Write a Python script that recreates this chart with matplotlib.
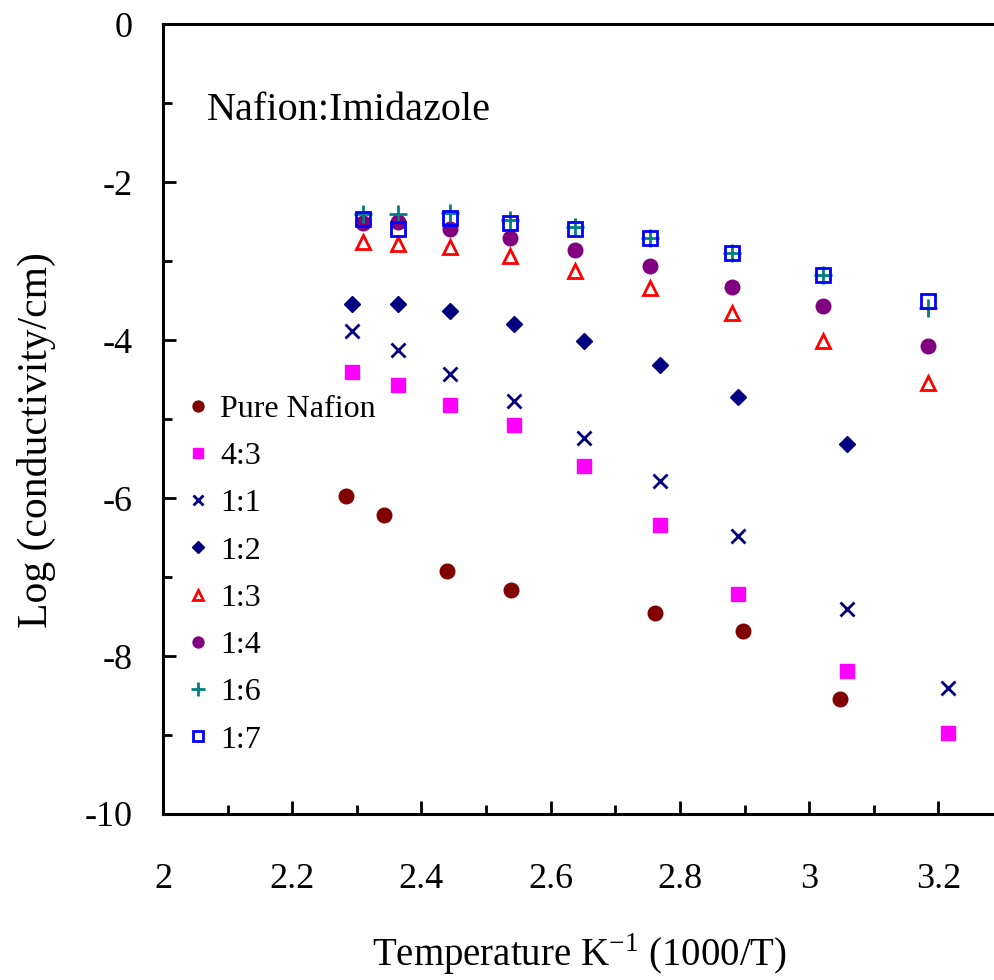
import numpy as np
import matplotlib
matplotlib.use("Agg")
import matplotlib.pyplot as plt
from matplotlib.ticker import MultipleLocator, FuncFormatter

plt.rcParams['font.family'] = ['Liberation Serif', 'DejaVu Serif']
plt.rcParams['mathtext.fontset'] = 'custom'
plt.rcParams['mathtext.rm'] = 'Liberation Serif'

# x = 1000/T, y = log(conductivity)
x_pure = [2.283, 2.342, 2.439, 2.538, 2.762, 2.898, 3.048]
y_pure = [-5.97, -6.21, -6.92, -7.17, -7.46, -7.68, -8.54]

x_main = [2.293, 2.363, 2.444, 2.544, 2.652, 2.769, 2.890, 3.059, 3.215]
y_43 = [-4.40, -4.57, -4.82, -5.08, -5.60, -6.34, -7.21, -8.19, -8.98]
y_11 = [-3.88, -4.13, -4.43, -4.77, -5.24, -5.78, -6.48, -7.41, -8.40]
y_12 = [-3.54, -3.54, -3.63, -3.80, -4.01, -4.31, -4.72, -5.32]

x_high = [2.309, 2.363, 2.444, 2.537, 2.638, 2.754, 2.881, 3.021, 3.184]
y_13 = [-2.76, -2.79, -2.82, -2.94, -3.13, -3.34, -3.66, -4.01, -4.54]
y_14 = [-2.52, -2.50, -2.60, -2.71, -2.86, -3.06, -3.33, -3.57, -4.07]
y_16 = [-2.41, -2.40, -2.39, -2.48, -2.57, -2.71, -2.90, -3.18, -3.59]
y_17 = [-2.47, -2.60, -2.45, -2.52, -2.59, -2.71, -2.90, -3.18, -3.51]

fig = plt.figure(figsize=(9.94, 9.80), dpi=100)
ax = fig.add_axes([0.164, 0.1694, 0.845, 0.806])

ax.plot(x_pure, y_pure, 'o', color='#800000', ms=10.5, mec='#800000', label='Pure Nafion')
ax.plot(x_main, y_43, 's', color='#FF00FF', ms=10.5, mec='#FF00FF', label='4:3')
ax.plot(x_main, y_11, 'x', color='#000080', ms=10.5, mew=2, label='1:1')
ax.plot(x_main[:8], y_12, 'D', color='#000080', ms=8, mec='#000080', label='1:2')
ax.plot(x_high, y_13, '^', mfc='none', mec='#FF0000', ms=10.5, mew=2, label='1:3')
ax.plot(x_high, y_14, 'o', color='#800080', ms=10.5, mec='#800080', label='1:4')
ax.plot(x_high, y_16, '+', color='#008080', ms=13, mew=2, label='1:6')
ax.plot(x_high, y_17, 's', mfc='none', mec='#0000FF', ms=10.5, mew=2, label='1:7')

ax.set_xlim(2, 3.3)
ax.set_ylim(-10, 0)
ax.xaxis.set_major_locator(MultipleLocator(0.2))
ax.xaxis.set_minor_locator(MultipleLocator(0.1))
ax.yaxis.set_major_locator(MultipleLocator(2))
ax.yaxis.set_minor_locator(MultipleLocator(1))
ax.xaxis.set_major_formatter(FuncFormatter(lambda v, p: '%g' % round(v, 1)))
ax.yaxis.set_major_formatter(FuncFormatter(lambda v, p: '%g' % v))

ax.tick_params(which='both', direction='in', width=2, labelsize=26, top=False, right=False)
ax.tick_params(which='major', length=9.5)
ax.tick_params(which='minor', length=6.5)
ax.tick_params(axis='x', pad=35)
ax.tick_params(axis='y', pad=22)
for s in ax.spines.values():
    s.set_linewidth(2.2)

ax.set_xlabel('Temperature K$^{-1}$ (1000/T)', fontsize=28)
ax.set_ylabel('Log (conductivity/cm)', fontsize=30)
ax.xaxis.set_label_coords(0.496, -0.148)
ax.yaxis.set_label_coords(-0.128, 0.473)

ax.text(2.068, -1.215, 'Nafion:Imidazole', fontsize=29, va='baseline', ha='left')

ax.legend(loc='upper left', bbox_to_anchor=(0.026, 0.531), frameon=False,
          fontsize=23, handlelength=0.8, handletextpad=0.3, borderaxespad=0,
          borderpad=0, labelspacing=0.56, markerscale=0.75)

fig.savefig('out.png', dpi=100)
